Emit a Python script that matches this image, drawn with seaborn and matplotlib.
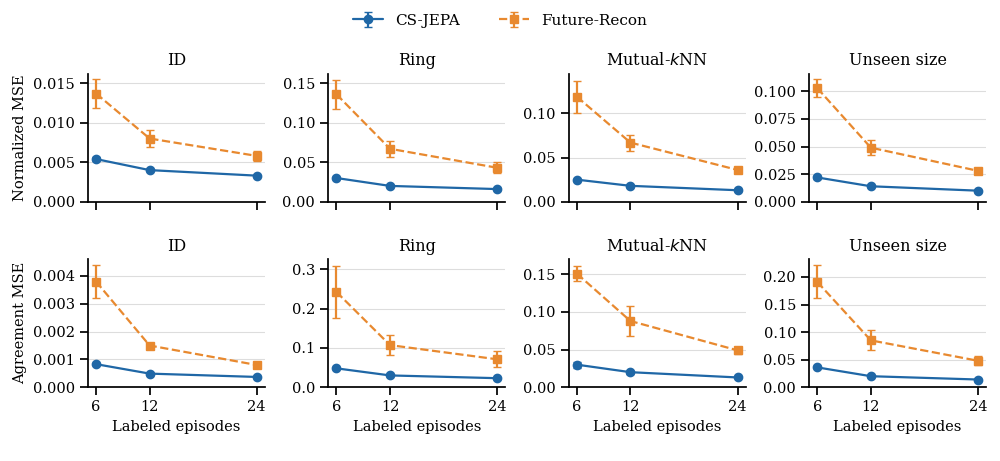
import matplotlib
matplotlib.use("Agg")
import matplotlib.pyplot as plt
import seaborn as sns
import numpy as np
import pandas as pd

sns.set_theme(style="ticks")
plt.rcParams['font.family'] = ['DejaVu Serif']
plt.rcParams.update({"text.color": "black", "axes.labelcolor": "black",
                     "xtick.color": "black", "ytick.color": "black",
                     "axes.edgecolor": "black"})

episodes = [6, 12, 24]
titles = ["ID", "Ring", "Mutual-$k$NN", "Unseen size"]
row_labels = ["Normalized MSE", "Agreement MSE"]

cs_vals = [
    [[0.0054, 0.0040, 0.0033], [0.030, 0.020, 0.016], [0.025, 0.018, 0.013], [0.022, 0.014, 0.010]],
    [[0.00083, 0.00049, 0.00037], [0.048, 0.030, 0.023], [0.030, 0.020, 0.013], [0.036, 0.020, 0.014]],
]
cs_err = [
    [[0.0002, 0.0001, 0.0001], [0.001, 0.001, 0.001], [0.001, 0.001, 0.001], [0.001, 0.001, 0.001]],
    [[0.00003, 0.00002, 0.00002], [0.002, 0.002, 0.001], [0.004, 0.002, 0.001], [0.002, 0.001, 0.001]],
]
fr_vals = [
    [[0.0137, 0.0080, 0.0058], [0.136, 0.067, 0.043], [0.119, 0.067, 0.036], [0.103, 0.049, 0.028]],
    [[0.0038, 0.0015, 0.0008], [0.242, 0.107, 0.071], [0.151, 0.088, 0.049], [0.191, 0.085, 0.048]],
]
fr_err = [
    [[0.0018, 0.0011, 0.0006], [0.018, 0.010, 0.007], [0.018, 0.009, 0.003], [0.008, 0.007, 0.003]],
    [[0.0006, 0.00005, 0.00005], [0.065, 0.025, 0.020], [0.010, 0.020, 0.005], [0.030, 0.018, 0.008]],
]
ylims = [[0.0162, 0.162, 0.145, 0.116], [0.0046, 0.325, 0.17, 0.232]]
yticks = [
    [[0, 0.005, 0.010, 0.015], [0, 0.05, 0.10, 0.15], [0, 0.05, 0.10], [0, 0.025, 0.05, 0.075, 0.1]],
    [[0, 0.001, 0.002, 0.003, 0.004], [0, 0.1, 0.2, 0.3], [0, 0.05, 0.10, 0.15], [0, 0.05, 0.10, 0.15, 0.20]],
]
yfmt = [["{:.3f}", "{:.2f}", "{:.2f}", "{:.3f}"], ["{:.3f}", "{:.1f}", "{:.2f}", "{:.2f}"]]

blue = "#1f67a6"
orange = "#e8892f"

fig, axes = plt.subplots(2, 4, figsize=(10, 4.61), dpi=100, sharex=True)
fig.subplots_adjust(left=0.088, right=0.986, top=0.84, bottom=0.16, wspace=0.36, hspace=0.45)

for r in range(2):
    for c in range(4):
        ax = axes[r, c]
        ax.errorbar(episodes, cs_vals[r][c], yerr=cs_err[r][c], color=blue, capsize=3,
                    lw=1.6, marker="o", ms=6, label="CS-JEPA", zorder=3)
        ax.errorbar(episodes, fr_vals[r][c], yerr=fr_err[r][c], color=orange, capsize=3,
                    lw=1.6, ls="--", marker="s", ms=6, label="Future-Recon", zorder=3)
        ax.set_ylim(0, ylims[r][c])
        ax.set_yticks(yticks[r][c])
        ax.set_yticklabels([yfmt[r][c].format(v) for v in yticks[r][c]])
        ax.set_xticks(episodes)
        ax.set_xlim(5.1, 24.9)
        ax.grid(axis="y", color="#dddddd", lw=0.8)
        ax.set_axisbelow(True)
        sns.despine(ax=ax)
        ax.set_title(titles[c], fontsize=11.5)
        ax.tick_params(labelsize=10.5)
        if c == 0:
            ax.set_ylabel(row_labels[r], fontsize=10.5)
        if r == 1:
            ax.set_xlabel("Labeled episodes", fontsize=10.5)

h, l = axes[0, 0].get_legend_handles_labels()
fig.legend(h, l, loc="upper center", ncol=2, frameon=False, fontsize=11,
           bbox_to_anchor=(0.5, 1.0), columnspacing=2.5)
fig.savefig("out.png", dpi=100)
